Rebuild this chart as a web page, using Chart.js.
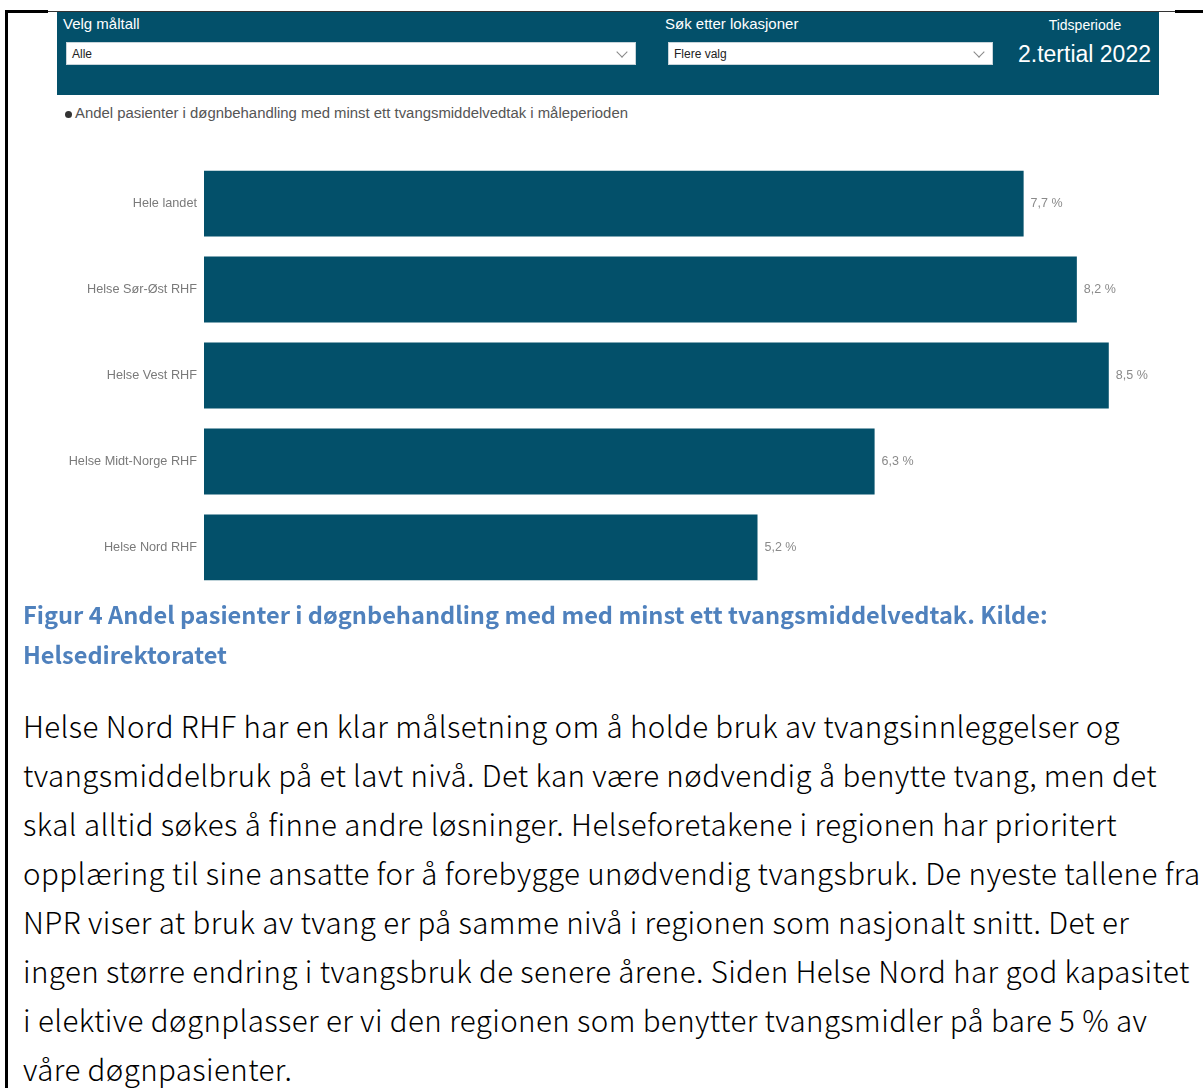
<!DOCTYPE html>
<html>
<head>
<meta charset="utf-8">
<script src="https://cdn.jsdelivr.net/npm/chart.js@4.4.0/dist/chart.umd.min.js"></script>
<style>
  html, body { margin: 0; padding: 0; background: #fff; }
  body { width: 1203px; height: 1088px; position: relative; overflow: hidden; font-family: "Liberation Sans", Arial, sans-serif; }
  .abs { position: absolute; }
  #panel { left: 57px; top: 12px; width: 1102px; height: 83px; background: #03506a; }
  .lbl { color: #fff; font-size: 15px; white-space: nowrap; }
  .dd { background: #fff; height: 23px; border: 1px solid #c8d4da; box-sizing: border-box; font-size: 12px; color: #222; line-height: 23px; padding-left: 5px; }
  .chev { position: absolute; width: 7px; height: 7px; border-right: 1px solid #888; border-bottom: 1px solid #888; transform: rotate(45deg); top: 5px; }
  #caption { left: 23px; top: 594px; width: 1170px; color: #4f81bd; font-family: "Noto Sans CJK JP", "Noto Sans", sans-serif; font-weight: bold; font-size: 23.6px; line-height: 40px; white-space: nowrap; }
  #body { left: 23px; top: 701px; width: 1190px; color: #000; font-family: "Noto Sans CJK JP", "Noto Sans", sans-serif; font-weight: 300; font-size: 29.5px; letter-spacing: 0.4px; line-height: 49px; white-space: nowrap; }
</style>
</head>
<body>
<div class="abs" style="left:6px;top:10px;width:42px;height:3px;background:#000"></div>
<div class="abs" style="left:48px;top:11px;width:1127px;height:1px;background:#333"></div>
<div class="abs" style="left:1175px;top:10px;width:28px;height:3px;background:#000"></div>
<div class="abs" style="left:5px;top:10px;width:3px;height:1078px;background:#000"></div>

<div id="panel" class="abs"></div>
<div class="abs lbl" style="left:63px;top:15px;">Velg måltall</div>
<div class="abs dd" style="left:66px;top:42px;width:570px;">Alle<div class="chev" style="right:9px"></div></div>
<div class="abs lbl" style="left:665px;top:15px;">Søk etter lokasjoner</div>
<div class="abs dd" style="left:668px;top:42px;width:325px;">Flere valg<div class="chev" style="right:9px"></div></div>
<div class="abs lbl" style="left:1025px;top:17px;width:120px;text-align:center;font-size:14px;">Tidsperiode</div>
<div class="abs lbl" style="left:1018px;top:41px;font-size:23px;">2.tertial 2022</div>

<div class="abs" style="left:65px;top:111px;width:7px;height:7px;border-radius:50%;background:#333"></div>
<div class="abs" style="left:75px;top:105px;font-size:14.9px;color:#555;white-space:nowrap;">Andel pasienter i døgnbehandling med minst ett tvangsmiddelvedtak i måleperioden</div>

<canvas id="c" class="abs" style="left:0;top:146px;" width="1203" height="459"></canvas>

<div id="caption" class="abs">Figur 4 Andel pasienter i døgnbehandling med med minst ett tvangsmiddelvedtak. Kilde:<br>Helsedirektoratet</div>

<div id="body" class="abs">Helse Nord RHF har en klar målsetning om å holde bruk av tvangsinnleggelser og<br>tvangsmiddelbruk på et lavt nivå. Det kan være nødvendig å benytte tvang, men det<br>skal alltid søkes å finne andre løsninger. Helseforetakene i regionen har prioritert<br>opplæring til sine ansatte for å forebygge unødvendig tvangsbruk. De nyeste tallene fra<br>NPR viser at bruk av tvang er på samme nivå i regionen som nasjonalt snitt. Det er<br>ingen større endring i tvangsbruk de senere årene. Siden Helse Nord har god kapasitet<br>i elektive døgnplasser er vi den regionen som benytter tvangsmidler på bare 5 % av<br>våre døgnpasienter.</div>

<script>
const categories = ["Hele landet", "Helse Sør-Øst RHF", "Helse Vest RHF", "Helse Midt-Norge RHF", "Helse Nord RHF"];
const values = [7.7, 8.2, 8.5, 6.3, 5.2];
const seriesName = "Andel pasienter i døgnbehandling med minst ett tvangsmiddelvedtak i måleperioden";

const valueLabels = {
  id: 'valueLabels',
  afterDatasetsDraw(chart) {
    const ctx = chart.ctx;
    const meta = chart.getDatasetMeta(0);
    ctx.save();
    ctx.font = '12.5px "Liberation Sans", Arial, sans-serif';
    ctx.fillStyle = '#8a8a8a';
    ctx.textAlign = 'left';
    ctx.textBaseline = 'middle';
    meta.data.forEach((bar, i) => {
      const txt = values[i].toFixed(1).replace('.', ',') + ' %';
      ctx.fillText(txt, bar.x + 7, bar.y);
    });
    ctx.restore();
  }
};

new Chart(document.getElementById('c'), {
  type: 'bar',
  data: {
    labels: categories,
    datasets: [{
      label: seriesName,
      data: values,
      backgroundColor: '#03506a',
      borderWidth: 0,
      categoryPercentage: 1,
      barPercentage: 0.767
    }]
  },
  options: {
    indexAxis: 'y',
    responsive: false,
    animation: false,
    layout: { padding: { left: 0, right: 41, top: 0, bottom: 0 } },
    plugins: { legend: { display: false }, tooltip: { enabled: false } },
    scales: {
      x: { display: false, min: 0, max: 9 },
      y: {
        grid: { display: false, drawTicks: false },
        border: { display: false },
        ticks: { color: '#7a7a7a', font: { size: 12.7, family: '"Liberation Sans", Arial, sans-serif' }, padding: 7 },
        afterFit(scale) { scale.width = 204; }
      }
    }
  },
  plugins: [valueLabels]
});
</script>
</body>
</html>
